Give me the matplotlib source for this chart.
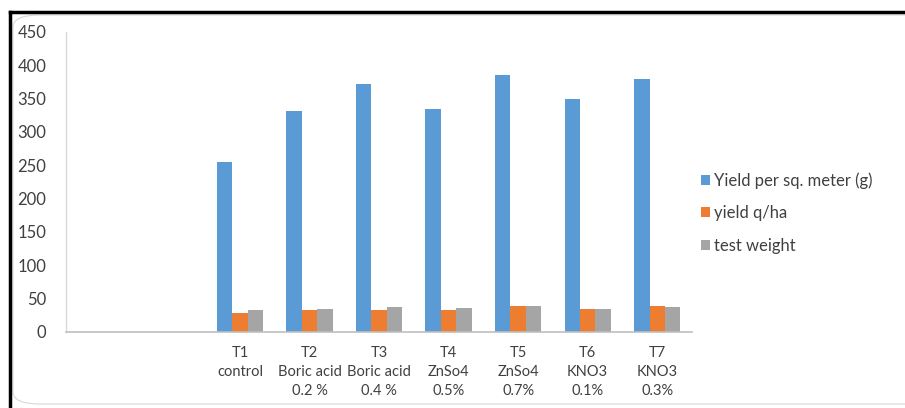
import matplotlib

matplotlib.use("Agg")
import matplotlib.pyplot as plt
import numpy as np
from matplotlib.lines import Line2D
from matplotlib.patches import FancyBboxPatch

plt.rcParams["font.family"] = ["Lato", "DejaVu Sans"]

treatments = ["T1\ncontrol", "T2\nBoric acid\n0.2 %", "T3\nBoric acid\n0.4 %",
              "T4\nZnSo4\n0.5%", "T5\nZnSo4\n0.7%", "T6\nKNO3\n0.1%", "T7\nKNO3\n0.3%"]
yield_sqm = [255, 331, 372, 334, 385, 349, 380]
yield_qha = [28, 33.5, 33.5, 33.5, 39, 35, 39]
test_weight = [33.5, 35, 37.5, 36, 39, 35, 37]
series_names = ["Yield per sq. meter (g)", "yield q/ha", "test weight"]
n_empty = 2  # blank category slots ahead of T1

BLUE, ORANGE, GREY = "#5B9BD5", "#ED7D31", "#A5A5A5"
TXT = "#404040"

W, H = 905, 408
fig = plt.figure(figsize=(W / 100, H / 100), dpi=100)
ax = fig.add_axes([66 / W, (H - 332) / H, (692 - 66) / W, 300 / H])

x = np.arange(len(treatments)) + n_empty
bw = 0.222
for off, vals, col, name in zip((-bw, 0, bw), (yield_sqm, yield_qha, test_weight),
                                (BLUE, ORANGE, GREY), series_names, strict=True):
    ax.bar(x + off, vals, width=bw, color=col, label=name)

ax.set_xlim(-0.5, len(treatments) + n_empty - 0.5)
ax.set_ylim(0, 450)
ax.set_yticks(range(0, 451, 50))
ax.set_xticks(x)
ax.set_xticklabels(treatments, fontsize=10.5, color=TXT, linespacing=1.45)
ax.tick_params(length=0)
ax.tick_params(axis="y", labelsize=12, labelcolor=TXT, pad=14)
ax.tick_params(axis="x", pad=10)
for s in ("top", "right"):
    ax.spines[s].set_visible(False)
ax.spines["left"].set_color("#d9d9d9")
ax.spines["bottom"].set_color("#bfbfbf")
ax.spines["left"].set_linewidth(1)
ax.spines["bottom"].set_linewidth(1.2)

ax.legend(loc="center left", bbox_to_anchor=(686 / W, (H - 213) / H),
          bbox_transform=fig.transFigure, frameon=False, fontsize=12, labelcolor=TXT,
          handlelength=0.55, handleheight=0.55, handletextpad=0.25, labelspacing=1.0)

# outer frame: heavy black edge top and left, soft rounded inner border
fig.add_artist(Line2D([10 / W, 1], [1 - 11.5 / H, 1 - 11.5 / H], color="black", lw=2.5,
                      transform=fig.transFigure))
fig.add_artist(Line2D([10 / W, 10 / W], [0, 1 - 11.5 / H], color="black", lw=2.5,
                      transform=fig.transFigure))
fig.add_artist(FancyBboxPatch((13 / W, 4 / H), 1.2, 1 - 19 / H,
                              boxstyle="round,pad=0,rounding_size=0.03",
                              transform=fig.transFigure, fill=False, ec="#d8d8d8", lw=0.8))

fig.savefig("out.png", dpi=100)
